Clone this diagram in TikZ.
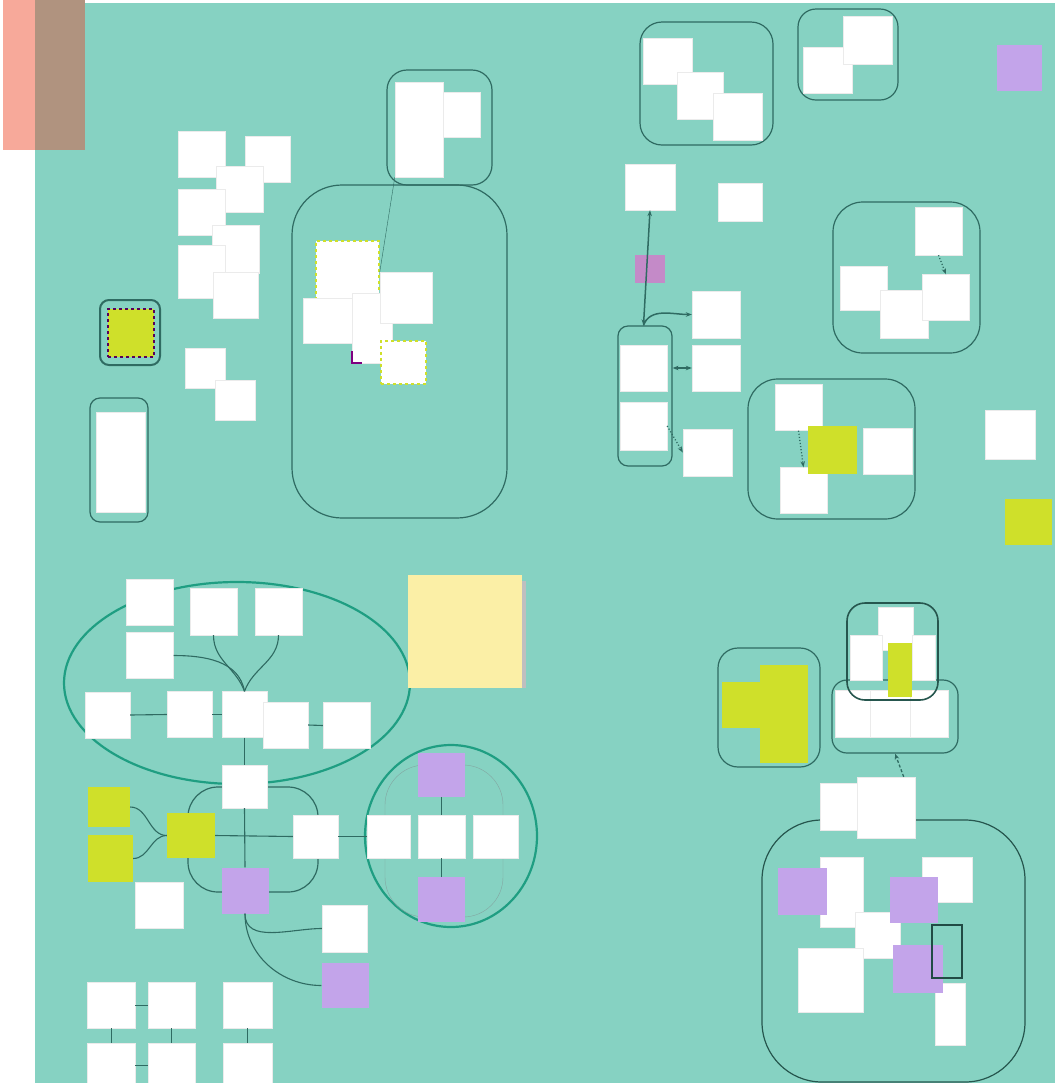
\documentclass[tikz,border=0pt]{standalone}
\usetikzlibrary{shapes.geometric,arrows.meta}
\definecolor{board}{HTML}{86D2C2}
\definecolor{edge}{HTML}{2F6B62}
\definecolor{ringcol}{HTML}{1F9E82}
\definecolor{lime}{HTML}{CFE02A}
\definecolor{lilac}{HTML}{C3A4EA}
\definecolor{mauve}{HTML}{C48AC8}
\definecolor{sticky}{HTML}{FBEFA6}
\definecolor{salmon}{HTML}{F7A99A}
\definecolor{taupe}{HTML}{B0937F}
\begin{document}
\begin{tikzpicture}[x=1pt,y=-1pt,
  note/.style={fill=white,draw=black!8,inner sep=0pt,minimum width=47pt,minimum height=46pt},
  ynote/.style={note,fill=lime,draw=none},
  pnote/.style={note,fill=lilac,draw=none},
  grp/.style={draw=edge,line width=1.2pt,rounded corners=22pt,inner sep=0pt},
  ring/.style={draw=ringcol,line width=2.2pt,ellipse,inner sep=0pt},
  link/.style={draw=edge,line width=1.1pt},
  tip/.style={-{Stealth[length=6pt]}},
  twotip/.style={{Stealth[length=6pt]}-{Stealth[length=6pt]}}]

\useasboundingbox (0,0) rectangle (1055,1088);
\fill[white] (0,0) rectangle (1055,1088);
\fill[board] (35,3) rectangle (1055,1083);
\fill[salmon] (3,0) rectangle (35,150);
\fill[taupe] (35,0) rectangle (85,150);

% top left notes
\node[note] (tl1) at (201.5,154.5) {};
\node[note,minimum width=45pt] (tl3) at (267.5,159.5) {};
\node[note] (tl2) at (240,189.5) {};
\node[note] (tl4) at (201.5,212.5) {};
\node[note,minimum height=48pt] (tl5) at (235.5,249) {};
\node[note,minimum height=53pt] (tl6) at (201.5,271.5) {};
\node[note,minimum width=45pt] (tl7) at (235.5,295.5) {};
\node[grp,rounded corners=9pt,minimum width=60pt,minimum height=65pt,line width=2pt] (ybox) at (130,332.5) {};
\node[ynote,draw=violet!70!black,dashed,line width=1.5pt,minimum width=46pt,minimum height=48pt] (yflag) at (131,333) {};
\node[note,minimum width=40pt,minimum height=40pt] (tl8) at (205,368) {};
\node[note,minimum width=40pt,minimum height=40pt] (tl9) at (235,400) {};
\node[grp,rounded corners=10pt,minimum width=58pt,minimum height=124pt] (gl) at (119,460) {};
\node[note,minimum width=49pt,minimum height=100pt] (tl10) at (120.5,462) {};

% centre groups
\node[grp,rounded corners=50pt,minimum width=215pt,minimum height=333pt] (big) at (399.5,351.5) {};
\node[grp,rounded corners=20pt,minimum width=105pt,minimum height=115pt] (sgrp) at (439.5,127.5) {};
\node[note,minimum width=48pt,minimum height=95pt] (sg1) at (419,129.5) {};
\node[note,minimum width=37pt,minimum height=45pt] (sg2) at (461.5,114.5) {};
\node[note,draw=lime,dashed,line width=2pt,minimum width=63pt,minimum height=58pt] (c1) at (347.5,270) {};
\node[note,minimum width=49pt,minimum height=45pt] (c2) at (327.5,320.5) {};
\node[note,minimum width=40pt,minimum height=70pt] (c3) at (372,328) {};
\draw[violet,line width=2pt] (c3.south west) ++(0,-12) |- ++(10,12);
\node[note,minimum width=52pt,minimum height=51pt] (c4) at (406,297.5) {};
\node[note,draw=lime,dashed,line width=2pt,minimum width=45pt,minimum height=43pt] (c5) at (403.5,362.5) {};
\draw[edge,thin] (sg1.south west) -- (c4.north west);

% oval cluster
\node[ring,minimum width=346pt,minimum height=202pt] (oval) at (237,683) {};
\node[note] (e1) at (150,602.5) {};
\node[note,minimum height=47pt] (e2) at (213.5,611.5) {};
\node[note,minimum height=47pt] (e3) at (278.5,611.5) {};
\node[note] (e4) at (150,655.5) {};
\node[note,minimum width=45pt] (e5) at (107.5,715) {};
\node[note,minimum width=45pt] (e6) at (189.5,714.5) {};
\node[note,minimum width=45pt] (e7) at (244.5,714.5) {};
\node[note,minimum width=45pt] (e8) at (285.5,725) {};
\node[note] (e9) at (346.5,725.5) {};
\draw[link] (e2.south) to[out=-90,in=110] (e7.north);
\draw[link] (e3.south) to[out=-90,in=70] (e7.north);
\draw[link] (e4.east) to[out=0,in=100] (e7.north);
\draw[link] (e5.east) -- (e6.west);
\draw[link] (e6.east) -- (e7.west);
\draw[link] (e8.east) -- (e9.west);

\node[note,fill=sticky,draw=none,minimum width=114pt,minimum height=113pt] (memo) at (465,631.5) {};
\fill[black!25] (memo.north east) ++(0,6) rectangle ++(4,107);

% lower left
\node[grp,rounded corners=30pt,minimum width=130pt,minimum height=105pt] (mid) at (253,839.5) {};
\node[note,minimum width=45pt,minimum height=43pt] (e10) at (244.5,786.5) {};
\node[ynote,minimum width=42pt,minimum height=40pt] (y1) at (109,807) {};
\node[ynote,minimum width=45pt,minimum height=47pt] (y2) at (110.5,858.5) {};
\node[ynote,minimum width=48pt,minimum height=45pt] (y3) at (191,835.5) {};
\node[note,minimum width=45pt,minimum height=43pt] (w1) at (315.5,836.5) {};
\node[pnote] (p1) at (245,890.5) {};
\node[note,minimum width=48pt] (w2) at (159,905) {};
\node[note,minimum width=45pt,minimum height=47pt] (w3) at (344.5,928.5) {};
\node[pnote,minimum height=45pt] (p2) at (345,985.5) {};
\draw[link] (y1.east) to[out=0,in=180] (y3.west);
\draw[link] (y2.east) to[out=0,in=180] (y3.west);
\draw[link] (e7.south) -- (e10.north);
\draw[link] (e10.south) -- (p1.north);
\draw[link] (y3.east) -- (w1.west);
\draw[link] (p1.south) to[out=-90,in=180] (w3.west);
\draw[link] (p1.south) to[out=-90,in=180] (p2.west);

% circle cluster
\node[ring,minimum width=172pt,minimum height=182pt] (orb) at (451,836) {};
\node[draw=edge!60,thin,rounded corners=40pt,minimum width=118pt,minimum height=152pt] (orbin) at (444,841) {};
\node[pnote,minimum height=44pt] (ci1) at (441.5,775) {};
\node[note,minimum width=43pt,minimum height=43pt] (ci2) at (388.5,836.5) {};
\node[note,minimum height=43pt] (ci3) at (441.5,836.5) {};
\node[note,minimum width=45pt,minimum height=43pt] (ci4) at (495.5,836.5) {};
\node[pnote,minimum height=45pt] (ci5) at (441.5,899.5) {};
\draw[link] (w1.east) -- (ci2.west);
\draw[edge,thin] (ci1.south) -- (ci3.north);
\draw[edge,thin] (ci3.south) -- (ci5.north);

% bottom row
\node[note,minimum width=48pt] (b1) at (111,1005) {};
\node[note] (b2) at (171.5,1005) {};
\node[note,minimum width=49pt] (b3) at (247.5,1005) {};
\node[note,minimum width=48pt,minimum height=45pt] (b4) at (111,1065.5) {};
\node[note,minimum height=45pt] (b5) at (171.5,1065.5) {};
\node[note,minimum width=49pt,minimum height=45pt] (b6) at (247.5,1065.5) {};
\draw[edge,thin] (b1.east) -- (b2.west);
\draw[edge,thin] (b1.south) -- (b4.north);
\draw[edge,thin] (b2.south) -- (b5.north);
\draw[edge,thin] (b3.south) -- (b6.north);
\draw[edge,thin] (b4.east) -- (b5.west);
\fill[white] (0,1083) rectangle (1055,1088);

% top right
\node[grp,minimum width=133pt,minimum height=123pt] (g1) at (706.5,83.5) {};
\node[note,minimum width=49pt] (n1) at (667.5,61) {};
\node[note,minimum width=46pt,minimum height=47pt] (n2) at (700,95.5) {};
\node[note,minimum width=49pt,minimum height=47pt] (n3) at (737.5,116.5) {};
\node[grp,rounded corners=18pt,minimum width=100pt,minimum height=91pt] (g2) at (848,54.5) {};
\node[note,minimum width=49pt] (n5) at (827.5,70) {};
\node[note,minimum width=49pt,minimum height=48pt] (n4) at (867.5,40) {};
\node[pnote,minimum width=45pt] (pu1) at (1019.5,68) {};
\node[note,minimum width=50pt] (n6) at (650,187) {};
\node[note,minimum width=44pt,minimum height=38pt] (n7) at (740,202) {};
\node[note,fill=mauve,draw=none,minimum width=30pt,minimum height=28pt] (pm) at (650,269) {};
\node[grp,rounded corners=10pt,minimum width=54pt,minimum height=140pt] (g3) at (645,396) {};
\node[note] (n8) at (643.5,368) {};
\node[note,minimum height=48pt] (n9) at (643.5,426) {};
\node[note,minimum width=48pt,minimum height=47pt] (n10) at (716,314.5) {};
\node[note,minimum width=48pt] (n11) at (716,368) {};
\node[note,minimum width=49pt,minimum height=47pt] (n12) at (707.5,452.5) {};
\draw[link,line width=1.5pt,twotip] (n6.south) -- (g3.north west -| n8.north);
\draw[link,line width=1.5pt,tip] (g3.north west -| n8.north) to[out=70,in=180] (n10.west);
\draw[link,line width=1.5pt,twotip] (g3.east |- n11.west) -- (n11.west);
\draw[link,dotted,line width=1.3pt,tip] (n9.east) -- (n12.west);

\node[grp,rounded corners=30pt,minimum width=167pt,minimum height=140pt] (g4) at (831.5,449) {};
\node[note] (m1) at (798.5,407.5) {};
\node[note] (m4) at (803.5,490.5) {};
\node[ynote,minimum width=49pt,minimum height=48pt] (m2) at (832.5,450) {};
\node[note,minimum width=49pt] (m3) at (887.5,451) {};
\draw[link,dotted,line width=1.3pt,tip] (m1.south) -- (m4.north);

\node[grp,rounded corners=30pt,minimum width=147pt,minimum height=151pt] (g5) at (906.5,277.5) {};
\node[note,minimum height=48pt] (k1) at (938.5,231) {};
\node[note,minimum height=44pt] (k2) at (863.5,288) {};
\node[note,minimum width=48pt,minimum height=48pt] (k3) at (904,314) {};
\node[note] (k4) at (946,297.5) {};
\draw[link,dotted,line width=1.3pt,tip] (k1.south) -- (k4.north);
\node[note,minimum width=50pt,minimum height=49pt] (n13) at (1010,434.5) {};
\node[ynote] (yl) at (1028.5,521.5) {};

% bottom right
\node[grp,rounded corners=20pt,minimum width=102pt,minimum height=119pt] (g6) at (769,707.5) {};
\node[ynote,minimum width=38pt] (q1) at (741,705) {};
\node[ynote,minimum width=48pt,minimum height=48pt] (q2) at (784,689) {};
\node[ynote,minimum width=48pt,minimum height=50pt] (q3) at (784,738) {};
\node[grp,rounded corners=15pt,minimum width=126pt,minimum height=73pt] (g7) at (895,716.5) {};
\node[note,minimum width=35pt,minimum height=47pt] (s1) at (852.5,713.5) {};
\node[note,minimum width=40pt,minimum height=47pt] (s2) at (890,713.5) {};
\node[note,minimum width=38pt,minimum height=47pt] (s3) at (929,713.5) {};
\node[note,minimum width=35pt,minimum height=43pt] (t1) at (895.5,628.5) {};
\node[note,minimum width=32pt,minimum height=45pt] (t2) at (866,657.5) {};
\node[note,minimum width=23pt,minimum height=45pt] (t3) at (923.5,657.5) {};
\node[ynote,minimum width=24pt,minimum height=54pt] (t4) at (900,670) {};
\node[grp,draw=edge!80!black,line width=1.6pt,rounded corners=18pt,minimum width=91pt,minimum height=97pt] (g8) at (892.5,651.5) {};

\node[grp,draw=edge!80!black,rounded corners=60pt,minimum width=263pt,minimum height=262pt] (g9) at (893.5,951) {};
\node[note,minimum width=37pt,minimum height=47pt] (n14) at (838.5,806.5) {};
\node[note,minimum width=58pt,minimum height=61pt] (n15) at (886,807.5) {};
\draw[link,densely dashed,line width=1.3pt,tip] (n15.60) -- (g7.south);
\node[note,minimum width=43pt,minimum height=70pt] (u1) at (841.5,892) {};
\node[pnote,minimum width=49pt,minimum height=47pt] (pu2) at (802.5,891.5) {};
\node[note,minimum width=45pt] (u2) at (877.5,935) {};
\node[note,minimum width=65pt,minimum height=64pt] (u3) at (830.5,980) {};
\node[note,minimum width=50pt,minimum height=45pt] (u4) at (947,879.5) {};
\node[pnote,minimum width=48pt] (pu3) at (914,900) {};
\node[note,minimum width=30pt,minimum height=62pt] (u5) at (950,1014) {};
\node[pnote,minimum width=50pt,minimum height=48pt] (pu4) at (918,969) {};
\node[draw=edge!70!black,line width=1.2pt,inner sep=0pt,minimum width=30pt,minimum height=53pt] (frame) at (947,951.5) {};

\end{tikzpicture}
\end{document}
